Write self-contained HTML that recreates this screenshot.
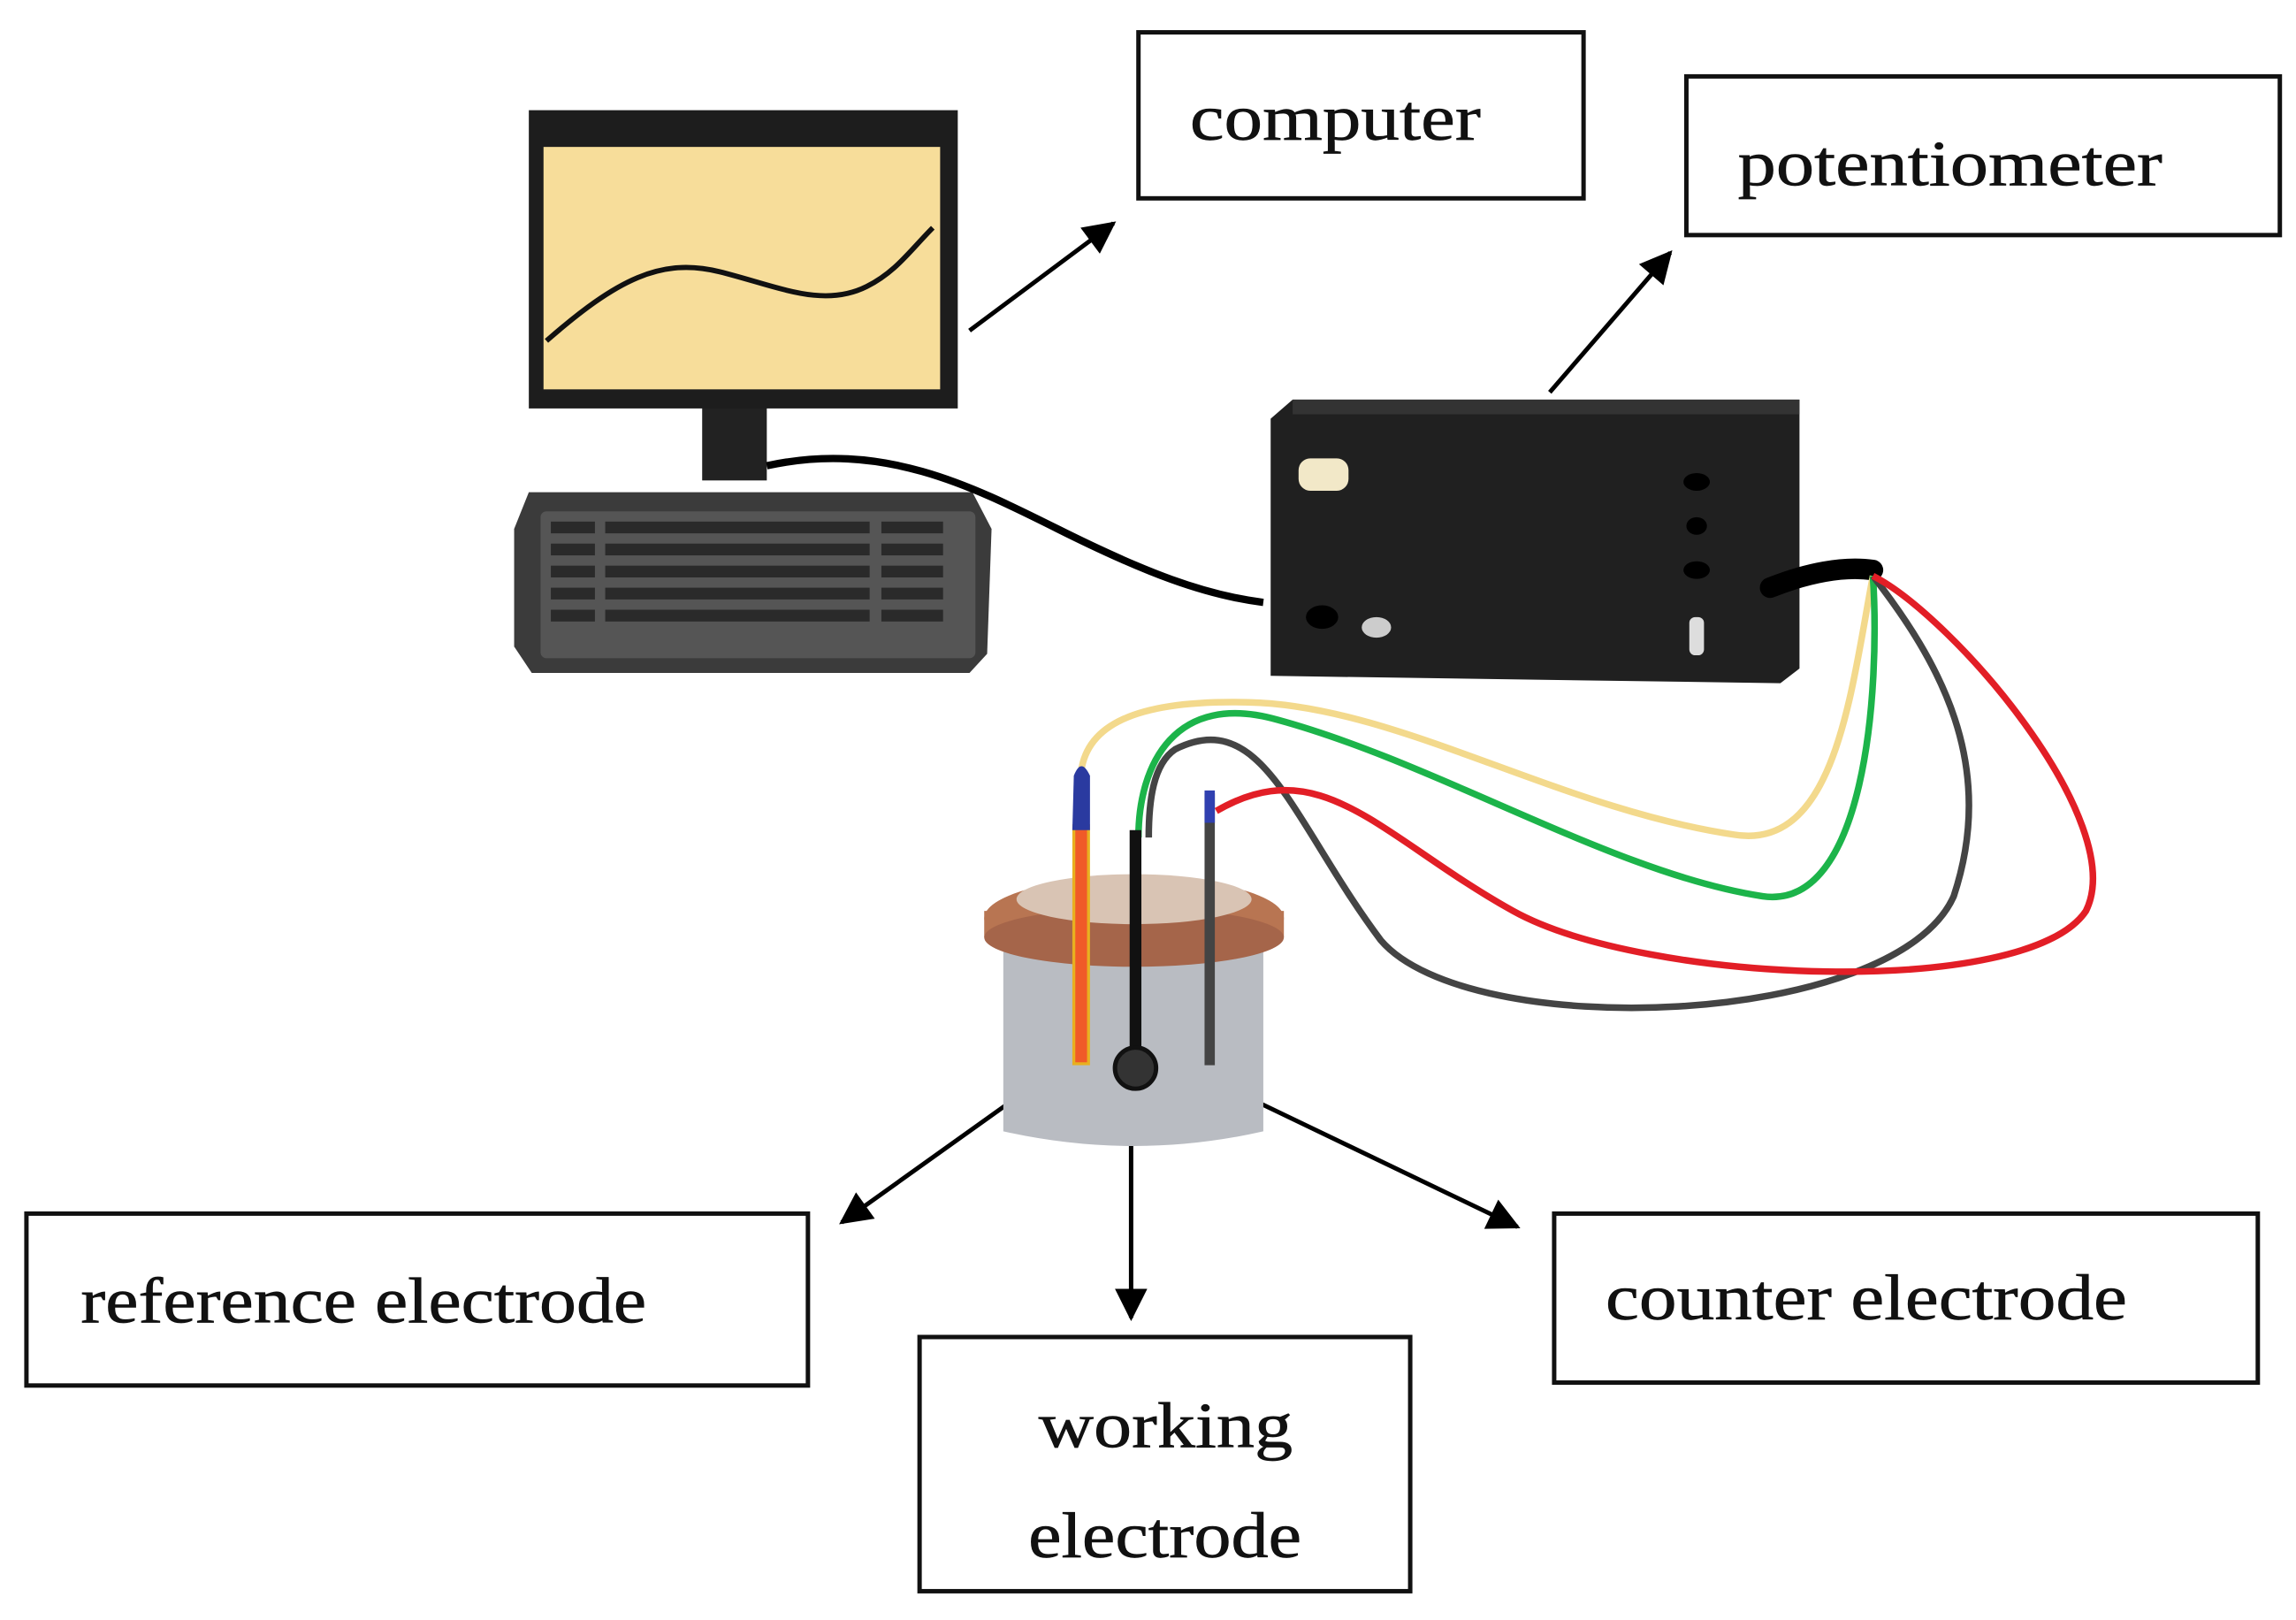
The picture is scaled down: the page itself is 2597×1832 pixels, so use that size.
<!DOCTYPE html>
<html><head><meta charset="utf-8"><style>
html,body{margin:0;padding:0;background:#fff;}
svg{display:block;}
text{font-family:"Liberation Serif",serif;fill:#111;}
</style></head><body>
<svg width="2597" height="1832" viewBox="0 0 1563 1102.6" preserveAspectRatio="none" xmlns="http://www.w3.org/2000/svg">
<defs>
<marker id="a2" viewBox="0 0 10 10" refX="9" refY="5" markerWidth="26" markerHeight="22" orient="auto" markerUnits="userSpaceOnUse"><path d="M0,0 L10,5 L0,10 z" fill="#000"/></marker>
</defs>
<g fill="#fff" stroke="#111" stroke-width="3">
<rect x="775" y="22" width="303" height="113"/>
<rect x="1148" y="52" width="404" height="108"/>
<rect x="18" y="826" width="532" height="117"/>
<rect x="626" y="910" width="334" height="173"/>
<rect x="1058" y="826" width="479" height="115"/>
</g>
<g font-size="44" stroke="#111" stroke-width="0.4">
<text x="810" y="95" textLength="198" lengthAdjust="spacingAndGlyphs">computer</text>
<text x="1183" y="126" textLength="289" lengthAdjust="spacingAndGlyphs">potentiometer</text>
<text x="55" y="900" textLength="385" lengthAdjust="spacingAndGlyphs">reference electrode</text>
<text x="707" y="985" textLength="173" lengthAdjust="spacingAndGlyphs">working</text>
<text x="700" y="1060" textLength="186" lengthAdjust="spacingAndGlyphs">electrode</text>
<text x="1093" y="898" textLength="355" lengthAdjust="spacingAndGlyphs">counter electrode</text>
</g>
<g stroke="#000" stroke-width="3" marker-end="url(#a2)">
<line x1="660" y1="225" x2="758" y2="152"/>
<line x1="1055" y1="267" x2="1137" y2="172"/>
<line x1="713" y1="732" x2="573" y2="832"/>
<line x1="770" y1="777" x2="770" y2="897"/>
<line x1="835" y1="740" x2="1033" y2="835"/>
</g>
<polygon points="360,335 662,335 675,360 672,445 660,458 362,458 350,440 350,360" fill="#3b3b3b"/>
<rect x="368" y="348" width="296" height="100" fill="#555" rx="4"/>
<g fill="#2a2a2a">
<rect x="375" y="355" width="30" height="8"/><rect x="375" y="370" width="30" height="8"/><rect x="375" y="385" width="30" height="8"/><rect x="375" y="400" width="30" height="8"/><rect x="375" y="415" width="30" height="8"/>
<rect x="412" y="355" width="180" height="8"/><rect x="412" y="370" width="180" height="8"/><rect x="412" y="385" width="180" height="8"/><rect x="412" y="400" width="180" height="8"/><rect x="412" y="415" width="180" height="8"/>
<rect x="600" y="355" width="42" height="8"/><rect x="600" y="370" width="42" height="8"/><rect x="600" y="385" width="42" height="8"/><rect x="600" y="400" width="42" height="8"/><rect x="600" y="415" width="42" height="8"/>
</g>
<rect x="478" y="275" width="44" height="52" fill="#222"/>
<rect x="360" y="75" width="292" height="203" fill="#1d1d1d"/>
<rect x="370" y="100" width="270" height="165" fill="#f7dd9a"/>
<path d="M372,232 C420,190 450,175 490,185 C530,195 560,210 590,195 C610,185 620,170 635,155" fill="none" stroke="#111" stroke-width="3.5"/>
<path d="M522,317 C600,300 660,330 720,360 C780,390 820,405 860,410" fill="none" stroke="#000" stroke-width="5"/>
<polygon points="865,285 880,272 1225,272 1225,455 1212,465 865,460" fill="#202020"/>
<rect x="880" y="272" width="345" height="10" fill="#333"/>
<rect x="884" y="312" width="34" height="22" rx="8" fill="#f2e8c8"/>
<ellipse cx="1155" cy="328" rx="9" ry="6" fill="#000"/>
<ellipse cx="1155" cy="358" rx="7" ry="6" fill="#000"/>
<ellipse cx="1155" cy="388" rx="9" ry="6" fill="#000"/>
<rect x="1150" y="420" width="10" height="26" rx="4" fill="#ddd"/>
<ellipse cx="900" cy="420" rx="11" ry="8" fill="#000"/>
<ellipse cx="937" cy="427" rx="10" ry="7" fill="#ccc"/>
<path d="M1205,400 C1230,390 1255,385 1275,388" fill="none" stroke="#000" stroke-width="14" stroke-linecap="round"/>
<path d="M683,635 L683,770 Q772,790 860,770 L860,635 Z" fill="#b9bcc2"/>
<ellipse cx="772" cy="625" rx="102" ry="28" fill="#b87552"/>
<rect x="670" y="620" width="204" height="18" fill="#b87552"/>
<ellipse cx="772" cy="638" rx="102" ry="20" fill="#a5654a"/>
<ellipse cx="772" cy="612" rx="80" ry="17" fill="#d9c4b4"/>
<g fill="none" stroke-width="4.5">
<path d="M1275,392 C1260,470 1250,580 1180,568 C1060,550 950,480 850,478 C770,476 740,495 736,525" stroke="#f3d98c"/>
<path d="M1275,392 C1280,470 1270,620 1200,610 C1100,595 980,520 870,490 C800,470 775,520 775,570" stroke="#1cb44a"/>
<path d="M1275,392 C1320,450 1360,520 1330,610 C1290,700 1000,710 940,640 C880,560 860,480 800,510 C785,520 782,545 782,570" stroke="#444"/>
<path d="M1275,392 C1330,420 1450,560 1420,620 C1380,680 1120,670 1030,620 C940,570 900,510 828,552" stroke="#e21e26"/>
</g>
<rect x="731" y="562" width="10" height="162" fill="#f05a28" stroke="#e8b020" stroke-width="2"/>
<path d="M730,565 L731,528 Q736,515 742,528 L742,565 Z" fill="#2a3aa0"/>
<rect x="769" y="565" width="8" height="155" fill="#111"/>
<circle cx="773" cy="727" r="14" fill="#333" stroke="#111" stroke-width="3"/>
<rect x="820" y="540" width="7" height="185" fill="#444"/>
<rect x="820" y="538" width="7" height="22" fill="#3040b0"/>
</svg>
</body></html>
